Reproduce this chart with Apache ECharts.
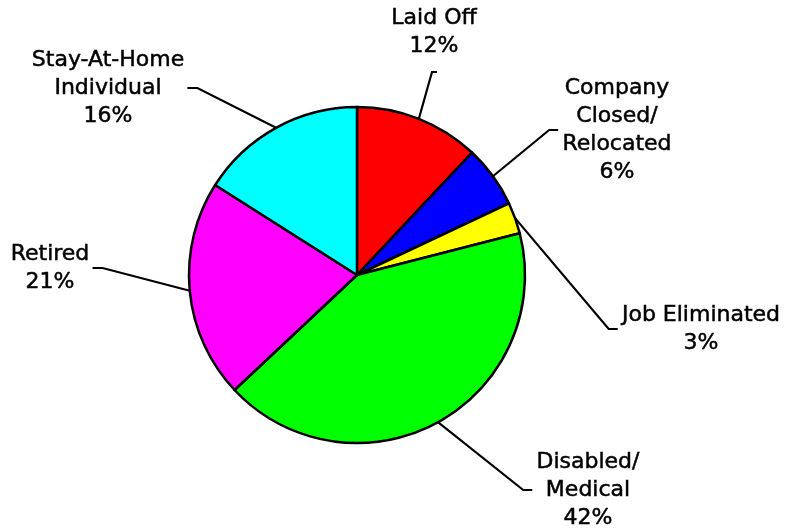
<!DOCTYPE html>
<html>
<head>
<meta charset="utf-8">
<script src="https://cdn.jsdelivr.net/npm/echarts@6/dist/echarts.min.js"></script>
<style>
  html, body { margin: 0; padding: 0; background: #fff; }
  #chart { width: 785px; height: 531px; }
</style>
</head>
<body>
<div id="chart"></div>
<script>
// slice names, clockwise from 12 o'clock
const categories = ['Laid Off', 'Company\nClosed/\nRelocated', 'Job Eliminated', 'Disabled/\nMedical', 'Retired', 'Stay-At-Home\nIndividual'];
const shares = [12, 6, 3, 42, 21, 16];
const sliceColors = ['#ff0000', '#0000ff', '#ffff00', '#00ff00', '#ff00ff', '#00ffff'];

// where each label block sits (centre) and on which side of its leader line
const labelSpots = [[434, 32], [617, 130], [701, 329], [588, 490], [50, 268], [108, 88]];
const labelSides = ['top', 'right', 'right', 'right', 'left', 'left'];

const chart = echarts.init(document.getElementById('chart'));

chart.setOption({
  animation: false,
  series: [
    {
      type: 'pie',
      center: [357, 275],
      radius: 168,
      startAngle: 90,
      clockwise: true,
      avoidLabelOverlap: false,
      itemStyle: { borderColor: '#000', borderWidth: 2.5 },
      emphasis: { disabled: true },
      label: {
        show: true,
        formatter: '{b}\n{c}%',
        fontFamily: 'DejaVu Sans',
        fontSize: 22,
        lineHeight: 28,
        color: '#000',
        // a thin outline to get the heavier look of the original text
        textBorderColor: '#000',
        textBorderWidth: 0.5,
        align: 'center'
      },
      labelLine: {
        show: true,
        lineStyle: { color: '#000', width: 2.2 }
      },
      labelLayout: function (params) {
        const i = params.dataIndex;
        const c = labelSpots[i];
        const w = params.labelRect.width;
        const h = params.labelRect.height;
        const start = params.labelLinePoints ? params.labelLinePoints[0] : c;
        let end, elbow;
        if (labelSides[i] === 'top') {
          end = [c[0] + 3, c[1] + h / 2 + 12];
          elbow = [end[0] - 5, end[1]];
        } else if (labelSides[i] === 'right') {
          end = [c[0] - w / 2 - 4, c[1]];
          elbow = [end[0] - 9, end[1]];
        } else {
          end = [c[0] + w / 2 + 3, c[1]];
          elbow = [end[0] + 10, end[1]];
        }
        return {
          x: c[0],
          y: c[1],
          align: 'center',
          verticalAlign: 'middle',
          labelLinePoints: [start, elbow, end]
        };
      },
      data: categories.map((name, i) => ({
        name: name,
        value: shares[i],
        itemStyle: { color: sliceColors[i] }
      }))
    }
  ]
});
</script>
</body>
</html>
